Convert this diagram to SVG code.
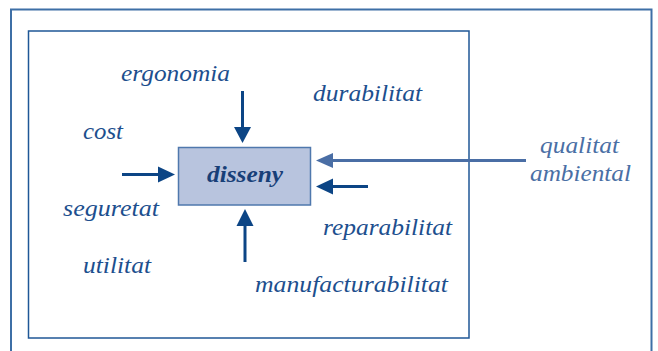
<svg xmlns="http://www.w3.org/2000/svg" width="658" height="351" viewBox="0 0 658 351">
<defs>
<style>
.lbl{font-family:"Liberation Serif","Times New Roman",serif;font-style:italic;font-size:24px;fill:#1d4f8e}
.amb{fill:#4a6fa5}
.ttl{font-weight:bold;fill:#173f78}
.ar{stroke:#0c4585;stroke-width:3;fill:none}
.arl{stroke:#4a6ea5;stroke-width:3;fill:none}
</style>
</defs>
<rect width="658" height="351" fill="#ffffff"/>
<g id="frames" fill="none">
<path d="M11,360 V9.5 H651.5 V360" stroke="#3e6fa6" stroke-width="2"/>
<rect x="28.5" y="31" width="440.5" height="307" stroke="#1f5796" stroke-width="1.5"/>
</g>
<g id="disseny">
<rect x="178.5" y="147.5" width="132" height="57.5" fill="#b8c4de" stroke="#4f78ad" stroke-width="1.5"/>
<text class="lbl ttl" x="207" y="182" textLength="76" lengthAdjust="spacingAndGlyphs">disseny</text>
</g>
<g id="ergonomia"><text class="lbl" x="121" y="81" textLength="109" lengthAdjust="spacingAndGlyphs">ergonomia</text></g>
<g id="durabilitat"><text class="lbl" x="313" y="101" textLength="109" lengthAdjust="spacingAndGlyphs">durabilitat</text></g>
<g id="cost"><text class="lbl" x="83" y="139" textLength="40" lengthAdjust="spacingAndGlyphs">cost</text></g>
<g id="seguretat"><text class="lbl" x="63" y="216" textLength="96" lengthAdjust="spacingAndGlyphs">seguretat</text></g>
<g id="utilitat"><text class="lbl" x="83" y="273" textLength="68" lengthAdjust="spacingAndGlyphs">utilitat</text></g>
<g id="reparabilitat"><text class="lbl" x="323" y="235" textLength="129" lengthAdjust="spacingAndGlyphs">reparabilitat</text></g>
<g id="manufacturabilitat"><text class="lbl" x="255" y="292" textLength="193" lengthAdjust="spacingAndGlyphs">manufacturabilitat</text></g>
<g id="qualitat-ambiental">
<text class="lbl amb" x="540" y="153" textLength="79" lengthAdjust="spacingAndGlyphs">qualitat</text>
<text class="lbl amb" x="530" y="181" textLength="101" lengthAdjust="spacingAndGlyphs">ambiental</text>
</g>
<g id="connectors">
<line class="ar" x1="242.5" y1="91" x2="242.5" y2="128"/>
<polygon points="234,127 251,127 242.5,143" fill="#0c4585"/>
<line class="ar" x1="122" y1="174.5" x2="159" y2="174.5"/>
<polygon points="158,166.5 158,182.5 175,174.5" fill="#0c4585"/>
<line class="ar" x1="245" y1="262" x2="245" y2="225"/>
<polygon points="236.5,226 253.5,226 245,209" fill="#0c4585"/>
<line class="ar" x1="368" y1="186.5" x2="332" y2="186.5"/>
<polygon points="333,178.5 333,194.5 316,186.5" fill="#0c4585"/>
<line class="arl" x1="526" y1="160.5" x2="332" y2="160.5"/>
<polygon points="333,153 333,168 316,160.5" fill="#4a6ea5"/>
</g>
</svg>
